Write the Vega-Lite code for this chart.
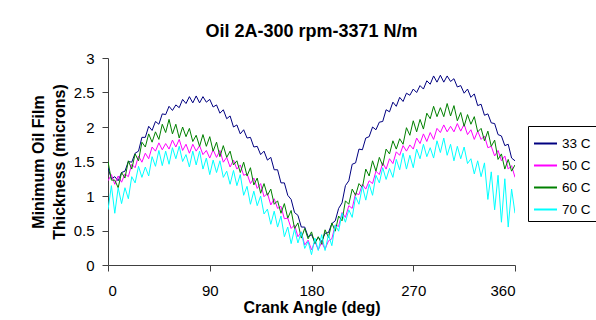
{
  "$schema": "https://vega.github.io/schema/vega-lite/v6.json",
  "autosize": {"type": "none"},
  "width": 407,
  "height": 207,
  "padding": {"left": 108, "top": 58, "right": 81, "bottom": 55},
  "background": "white",
  "title": {"text": "Oil 2A-300 rpm-3371 N/m", "font": "Liberation Sans", "fontSize": 18, "fontWeight": "bold", "color": "black", "anchor": "middle", "offset": 10},
  "data": {"values": [
    {"a":0,"33 C":1.41,"50 C":1.22,"60 C":1.50,"70 C":0.80},
    {"a":3,"33 C":1.25,"50 C":1.31,"60 C":1.23,"70 C":1.15},
    {"a":6,"33 C":1.28,"50 C":1.17,"60 C":1.23,"70 C":0.75},
    {"a":9,"33 C":1.22,"50 C":1.29,"60 C":1.12,"70 C":1.12},
    {"a":12,"33 C":1.34,"50 C":1.20,"60 C":1.34,"70 C":0.89},
    {"a":15,"33 C":1.36,"50 C":1.32,"60 C":1.26,"70 C":1.12},
    {"a":18,"33 C":1.50,"50 C":1.28,"60 C":1.51,"70 C":0.96},
    {"a":21,"33 C":1.49,"50 C":1.46,"60 C":1.39,"70 C":1.28},
    {"a":24,"33 C":1.62,"50 C":1.41,"60 C":1.61,"70 C":1.19},
    {"a":27,"33 C":1.65,"50 C":1.58,"60 C":1.51,"70 C":1.43},
    {"a":30,"33 C":1.85,"50 C":1.49,"60 C":1.78,"70 C":1.27},
    {"a":33,"33 C":1.85,"50 C":1.62,"60 C":1.71,"70 C":1.42},
    {"a":36,"33 C":2.01,"50 C":1.54,"60 C":1.90,"70 C":1.29},
    {"a":39,"33 C":1.95,"50 C":1.71,"60 C":1.78,"70 C":1.57},
    {"a":42,"33 C":2.08,"50 C":1.65,"60 C":1.93,"70 C":1.43},
    {"a":45,"33 C":2.04,"50 C":1.77,"60 C":1.82,"70 C":1.66},
    {"a":48,"33 C":2.19,"50 C":1.67,"60 C":2.04,"70 C":1.44},
    {"a":51,"33 C":2.18,"50 C":1.76,"60 C":1.92,"70 C":1.65},
    {"a":54,"33 C":2.30,"50 C":1.68,"60 C":2.11,"70 C":1.46},
    {"a":57,"33 C":2.24,"50 C":1.81,"60 C":1.90,"70 C":1.70},
    {"a":60,"33 C":2.32,"50 C":1.71,"60 C":2.04,"70 C":1.54},
    {"a":63,"33 C":2.28,"50 C":1.82,"60 C":1.84,"70 C":1.72},
    {"a":66,"33 C":2.40,"50 C":1.66,"60 C":2.00,"70 C":1.50},
    {"a":69,"33 C":2.34,"50 C":1.75,"60 C":1.86,"70 C":1.60},
    {"a":72,"33 C":2.44,"50 C":1.62,"60 C":1.98,"70 C":1.42},
    {"a":75,"33 C":2.35,"50 C":1.75,"60 C":1.79,"70 C":1.65},
    {"a":78,"33 C":2.45,"50 C":1.65,"60 C":1.88,"70 C":1.45},
    {"a":81,"33 C":2.35,"50 C":1.73,"60 C":1.72,"70 C":1.65},
    {"a":84,"33 C":2.44,"50 C":1.60,"60 C":1.89,"70 C":1.39},
    {"a":87,"33 C":2.36,"50 C":1.66,"60 C":1.72,"70 C":1.55},
    {"a":90,"33 C":2.40,"50 C":1.55,"60 C":1.86,"70 C":1.31},
    {"a":93,"33 C":2.29,"50 C":1.67,"60 C":1.65,"70 C":1.52},
    {"a":96,"33 C":2.32,"50 C":1.56,"60 C":1.78,"70 C":1.34},
    {"a":99,"33 C":2.20,"50 C":1.66,"60 C":1.57,"70 C":1.51},
    {"a":102,"33 C":2.25,"50 C":1.49,"60 C":1.73,"70 C":1.27},
    {"a":105,"33 C":2.12,"50 C":1.56,"60 C":1.56,"70 C":1.36},
    {"a":108,"33 C":2.16,"50 C":1.42,"60 C":1.65,"70 C":1.17},
    {"a":111,"33 C":2.00,"50 C":1.52,"60 C":1.45,"70 C":1.37},
    {"a":114,"33 C":2.03,"50 C":1.39,"60 C":1.51,"70 C":1.15},
    {"a":117,"33 C":1.90,"50 C":1.45,"60 C":1.34,"70 C":1.31},
    {"a":120,"33 C":1.96,"50 C":1.30,"60 C":1.49,"70 C":1.01},
    {"a":123,"33 C":1.84,"50 C":1.32,"60 C":1.29,"70 C":1.14},
    {"a":126,"33 C":1.85,"50 C":1.18,"60 C":1.41,"70 C":0.88},
    {"a":129,"33 C":1.71,"50 C":1.26,"60 C":1.16,"70 C":1.07},
    {"a":132,"33 C":1.72,"50 C":1.11,"60 C":1.26,"70 C":0.86},
    {"a":135,"33 C":1.60,"50 C":1.18,"60 C":1.04,"70 C":1.00},
    {"a":138,"33 C":1.65,"50 C":0.99,"60 C":1.18,"70 C":0.74},
    {"a":141,"33 C":1.52,"50 C":1.04,"60 C":1.01,"70 C":0.81},
    {"a":144,"33 C":1.56,"50 C":0.87,"60 C":1.10,"70 C":0.59},
    {"a":147,"33 C":1.38,"50 C":0.96,"60 C":0.88,"70 C":0.78},
    {"a":150,"33 C":1.38,"50 C":0.82,"60 C":0.93,"70 C":0.55},
    {"a":153,"33 C":1.19,"50 C":0.85,"60 C":0.75,"70 C":0.71},
    {"a":156,"33 C":1.19,"50 C":0.67,"60 C":0.89,"70 C":0.41},
    {"a":159,"33 C":1.01,"50 C":0.68,"60 C":0.68,"70 C":0.55},
    {"a":162,"33 C":0.95,"50 C":0.53,"60 C":0.79,"70 C":0.31},
    {"a":165,"33 C":0.76,"50 C":0.58,"60 C":0.53,"70 C":0.52},
    {"a":168,"33 C":0.72,"50 C":0.41,"60 C":0.61,"70 C":0.32},
    {"a":171,"33 C":0.55,"50 C":0.48,"60 C":0.39,"70 C":0.48},
    {"a":174,"33 C":0.55,"50 C":0.29,"60 C":0.53,"70 C":0.24},
    {"a":177,"33 C":0.41,"50 C":0.36,"60 C":0.38,"70 C":0.34},
    {"a":180,"33 C":0.44,"50 C":0.22,"60 C":0.48,"70 C":0.15},
    {"a":183,"33 C":0.33,"50 C":0.34,"60 C":0.31,"70 C":0.39},
    {"a":186,"33 C":0.40,"50 C":0.22,"60 C":0.41,"70 C":0.21},
    {"a":189,"33 C":0.34,"50 C":0.33,"60 C":0.30,"70 C":0.44},
    {"a":192,"33 C":0.46,"50 C":0.23,"60 C":0.51,"70 C":0.21},
    {"a":195,"33 C":0.47,"50 C":0.35,"60 C":0.40,"70 C":0.44},
    {"a":198,"33 C":0.60,"50 C":0.38,"60 C":0.61,"70 C":0.28},
    {"a":201,"33 C":0.64,"50 C":0.58,"60 C":0.49,"70 C":0.58},
    {"a":204,"33 C":0.82,"50 C":0.56,"60 C":0.71,"70 C":0.49},
    {"a":207,"33 C":0.90,"50 C":0.76,"60 C":0.64,"70 C":0.75},
    {"a":210,"33 C":1.15,"50 C":0.69,"60 C":0.93,"70 C":0.62},
    {"a":213,"33 C":1.22,"50 C":0.86,"60 C":0.88,"70 C":0.80},
    {"a":216,"33 C":1.46,"50 C":0.82,"60 C":1.10,"70 C":0.69},
    {"a":219,"33 C":1.48,"50 C":1.04,"60 C":1.01,"70 C":0.99},
    {"a":222,"33 C":1.68,"50 C":1.02,"60 C":1.18,"70 C":0.88},
    {"a":225,"33 C":1.67,"50 C":1.17,"60 C":1.12,"70 C":1.14},
    {"a":228,"33 C":1.84,"50 C":1.10,"60 C":1.39,"70 C":0.94},
    {"a":231,"33 C":1.86,"50 C":1.22,"60 C":1.29,"70 C":1.17},
    {"a":234,"33 C":2.00,"50 C":1.18,"60 C":1.51,"70 C":1.01},
    {"a":237,"33 C":1.96,"50 C":1.36,"60 C":1.36,"70 C":1.30},
    {"a":240,"33 C":2.07,"50 C":1.31,"60 C":1.56,"70 C":1.19},
    {"a":243,"33 C":2.08,"50 C":1.48,"60 C":1.44,"70 C":1.41},
    {"a":246,"33 C":2.25,"50 C":1.39,"60 C":1.68,"70 C":1.24},
    {"a":249,"33 C":2.22,"50 C":1.54,"60 C":1.61,"70 C":1.40},
    {"a":252,"33 C":2.36,"50 C":1.47,"60 C":1.80,"70 C":1.27},
    {"a":255,"33 C":2.30,"50 C":1.64,"60 C":1.68,"70 C":1.53},
    {"a":258,"33 C":2.43,"50 C":1.59,"60 C":1.83,"70 C":1.38},
    {"a":261,"33 C":2.37,"50 C":1.73,"60 C":1.75,"70 C":1.62},
    {"a":264,"33 C":2.49,"50 C":1.65,"60 C":1.99,"70 C":1.39},
    {"a":267,"33 C":2.46,"50 C":1.74,"60 C":1.88,"70 C":1.59},
    {"a":270,"33 C":2.55,"50 C":1.68,"60 C":2.09,"70 C":1.41},
    {"a":273,"33 C":2.50,"50 C":1.84,"60 C":1.93,"70 C":1.68},
    {"a":276,"33 C":2.60,"50 C":1.76,"60 C":2.11,"70 C":1.54},
    {"a":279,"33 C":2.55,"50 C":1.90,"60 C":1.97,"70 C":1.75},
    {"a":282,"33 C":2.67,"50 C":1.79,"60 C":2.20,"70 C":1.57},
    {"a":285,"33 C":2.62,"50 C":1.92,"60 C":2.12,"70 C":1.70},
    {"a":288,"33 C":2.74,"50 C":1.82,"60 C":2.30,"70 C":1.55},
    {"a":291,"33 C":2.65,"50 C":1.98,"60 C":2.15,"70 C":1.80},
    {"a":294,"33 C":2.75,"50 C":1.92,"60 C":2.28,"70 C":1.63},
    {"a":297,"33 C":2.65,"50 C":2.03,"60 C":2.15,"70 C":1.84},
    {"a":300,"33 C":2.74,"50 C":1.93,"60 C":2.34,"70 C":1.59},
    {"a":303,"33 C":2.66,"50 C":2.01,"60 C":2.16,"70 C":1.75},
    {"a":306,"33 C":2.70,"50 C":1.93,"60 C":2.31,"70 C":1.51},
    {"a":309,"33 C":2.58,"50 C":2.05,"60 C":2.09,"70 C":1.72},
    {"a":312,"33 C":2.60,"50 C":1.94,"60 C":2.21,"70 C":1.54},
    {"a":315,"33 C":2.49,"50 C":2.04,"60 C":2.01,"70 C":1.71},
    {"a":318,"33 C":2.55,"50 C":1.89,"60 C":2.18,"70 C":1.47},
    {"a":321,"33 C":2.43,"50 C":1.96,"60 C":2.04,"70 C":1.54},
    {"a":324,"33 C":2.48,"50 C":1.82,"60 C":2.15,"70 C":1.32},
    {"a":327,"33 C":2.31,"50 C":1.94,"60 C":1.93,"70 C":1.51},
    {"a":330,"33 C":2.33,"50 C":1.82,"60 C":1.98,"70 C":1.28},
    {"a":333,"33 C":2.17,"50 C":1.87,"60 C":1.80,"70 C":1.48},
    {"a":336,"33 C":2.19,"50 C":1.70,"60 C":1.94,"70 C":0.95},
    {"a":339,"33 C":2.06,"50 C":1.72,"60 C":1.72,"70 C":1.35},
    {"a":342,"33 C":2.05,"50 C":1.58,"60 C":1.81,"70 C":0.80},
    {"a":345,"33 C":1.89,"50 C":1.66,"60 C":1.53,"70 C":1.30},
    {"a":348,"33 C":1.87,"50 C":1.51,"60 C":1.61,"70 C":0.62},
    {"a":351,"33 C":1.73,"50 C":1.58,"60 C":1.39,"70 C":1.25},
    {"a":354,"33 C":1.75,"50 C":1.39,"60 C":1.53,"70 C":0.55},
    {"a":357,"33 C":1.55,"50 C":1.44,"60 C":1.36,"70 C":1.10},
    {"a":360,"33 C":1.51,"50 C":1.27,"60 C":1.45,"70 C":0.75}
  ]},
  "transform": [{"fold": ["33 C", "50 C", "60 C", "70 C"], "as": ["series", "value"]}],
  "mark": {"type": "line", "strokeWidth": 1, "clip": true},
  "encoding": {
    "x": {
      "field": "a", "type": "quantitative",
      "scale": {"domain": [0, 360], "nice": false, "zero": false},
      "axis": {"values": [0, 90, 180, 270, 360], "title": "Crank Angle (deg)", "titlePadding": 1, "labelPadding": 12, "tickSize": 6}
    },
    "y": {
      "field": "value", "type": "quantitative",
      "scale": {"domain": [0, 3], "nice": false},
      "axis": {"values": [0, 0.5, 1, 1.5, 2, 2.5, 3], "format": "~g", "title": ["Minimum Oil Film", "Thickness (microns)"], "titlePadding": 6, "titleLineHeight": 21, "labelPadding": 8, "tickSize": 6}
    },
    "color": {
      "field": "series", "type": "nominal",
      "scale": {"domain": ["33 C", "50 C", "60 C", "70 C"], "range": ["#000080", "#FF00FF", "#008000", "#00FFFF"]},
      "legend": {"title": null, "orient": "none", "legendX": 420, "legendY": 68}
    }
  },
  "config": {
    "view": {"stroke": null},
    "axis": {
      "grid": false,
      "domainColor": "#404040", "tickColor": "#404040", "domainWidth": 1, "tickWidth": 1,
      "labelFont": "Liberation Sans", "labelFontSize": 15, "labelColor": "black",
      "titleFont": "Liberation Sans", "titleFontSize": 16, "titleFontWeight": "bold", "titleColor": "black"
    },
    "legend": {
      "symbolType": "stroke", "symbolSize": 529, "symbolStrokeWidth": 2,
      "labelFont": "Liberation Sans", "labelFontSize": 13.5, "labelColor": "black", "labelOffset": 4,
      "strokeColor": "black", "fillColor": "white", "padding": 5, "rowPadding": 3, "cornerRadius": 0
    }
  }
}
